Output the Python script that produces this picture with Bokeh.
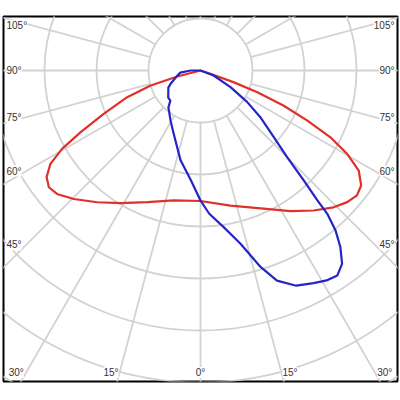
import math
from bokeh.plotting import figure
from bokeh.models import ColumnDataSource, LabelSet, Range1d
from bokeh.core.properties import value
from bokeh.embed import file_html
from bokeh.resources import INLINE

# ---- data (angle in degrees from nadir, intensity in chart units) ----
red_angle = [-90, -75.6, -73.3, -70.0, -65.9, -62.8, -60.5, -58.1, -55.3, -52.4, -49.3,
             -44.6, -38.1, -31.1, -22.0, -11.6, 0.0, 12.5, 24.5, 32.6, 38.9, 44.2, 48.1,
             51.4, 54.4, 57.7, 60.4, 62.8, 64.9, 67.1, 69.1, 70.5, 71.7, 90]
red_value = [0, 46, 100, 150, 204, 259, 306, 340, 360, 368, 364,
             347, 322, 298, 273, 255, 251, 266, 292, 321, 346, 367, 379,
             385, 380, 360, 324, 281, 227, 173, 117, 67, 20, 0]

blue_angle = [-90, -84, -77, -66, -62, -50, -45, -41, -31, -23, -12.5, -5, 0, 3.5,
              8.5, 13, 17, 20, 24, 28, 31, 33.7, 36.2, 38.4, 40.2, 41.5, 42, 43.2,
              45, 47.7, 52, 56, 61, 69, 90]
blue_value = [19, 39, 46, 63, 70, 81, 82, 94, 112, 132, 177, 212, 250, 276,
              305, 342, 395, 430, 453, 463, 471, 474, 461, 433, 402, 368, 336, 290,
              236, 191, 146, 108, 66, 27, 0]

ring_values = [100, 200, 300, 400, 500, 600, 700]
spoke_angles = list(range(-165, 181, 15))
side_label_angles = [45, 60, 75, 90, 105]
bottom_label_angles = [15, 30]

# ---- geometry (pixels) ----
PX = 52.0 / 100.0          # pixels per chart unit
CX, CY = 200, 70           # pole position on canvas
FL, FR, FT, FB = 3, 397, 16, 381
u = 1.0 / PX

p = figure(width=400, height=400,
           x_range=Range1d((FL - CX) * u, (FR - CX) * u),
           y_range=Range1d(-(FB - CY) * u, (CY - FT) * u),
           output_backend="svg", toolbar_location=None,
           x_axis_location=None, y_axis_location=None,
           min_border_left=FL, min_border_right=400 - FR,
           min_border_top=FT, min_border_bottom=400 - FB)
p.grid.visible = False
p.outline_line_color = "black"
p.outline_line_width = 2
p.outline_line_alpha = 1.0
p.background_fill_color = "white"
p.border_fill_color = "white"

GRID = "#d2d2d2"

# rings
p.circle(x=[0] * len(ring_values), y=[0] * len(ring_values), radius=ring_values,
         fill_color=None, line_color=GRID, line_width=1.8)

# spokes
inner, outer = ring_values[0], 1200
sx0 = [inner * math.sin(math.radians(a)) for a in spoke_angles]
sy0 = [-inner * math.cos(math.radians(a)) for a in spoke_angles]
sx1 = [outer * math.sin(math.radians(a)) for a in spoke_angles]
sy1 = [-outer * math.cos(math.radians(a)) for a in spoke_angles]
p.segment(x0=sx0, y0=sy0, x1=sx1, y1=sy1, line_color=GRID, line_width=1.8)


def polar(angles, vals):
    xs = [v * math.sin(math.radians(a)) for a, v in zip(angles, vals)]
    ys = [-v * math.cos(math.radians(a)) for a, v in zip(angles, vals)]
    return xs, ys


rx, ry = polar(red_angle, red_value)
bx, by = polar(blue_angle, blue_value)
bx.append(bx[0]); by.append(by[0])
p.line(rx, ry, line_color="#e0302a", line_width=2.2, line_join="round")
p.line(bx, by, line_color="#2424c8", line_width=2.2, line_join="round")

# ---- angle labels ----
def lbl(a):
    return f"{a}\u00b0"

left_src = dict(x=[], y=[], t=[])
right_src = dict(x=[], y=[], t=[])
center_src = dict(x=[], y=[], t=[])

for a in side_label_angles:
    inner_px = 197 - 6 - 5.6 * len(lbl(a))
    yy = -inner_px * math.cos(math.radians(a)) / math.sin(math.radians(a)) * u
    left_src["x"].append((FL - CX + 3) * u); left_src["y"].append(yy); left_src["t"].append(lbl(a))
    right_src["x"].append((FR - CX - 3) * u); right_src["y"].append(yy); right_src["t"].append(lbl(a))

yb = -(FB - 9 - CY) * u
for a in bottom_label_angles:
    xx = 306.0 * math.tan(math.radians(a)) * u
    right_src["x"].append(-xx); right_src["y"].append(yb); right_src["t"].append(lbl(a))
    left_src["x"].append(xx); left_src["y"].append(yb); left_src["t"].append(lbl(a))
center_src["x"].append(0); center_src["y"].append(yb); center_src["t"].append(lbl(0))

extra = {}
if "padding" in LabelSet.properties():
    extra["padding"] = 2

for src, align in ((left_src, "left"), (right_src, "right"), (center_src, "center")):
    p.add_layout(LabelSet(x="x", y="y", text="t", source=ColumnDataSource(src),
                          text_align=align, text_baseline="middle",
                          text_font=value("Liberation Sans"), text_font_size="10px",
                          text_color="#333333", background_fill_color="white", **extra))

open("out.html", "w").write(file_html(p, INLINE))
